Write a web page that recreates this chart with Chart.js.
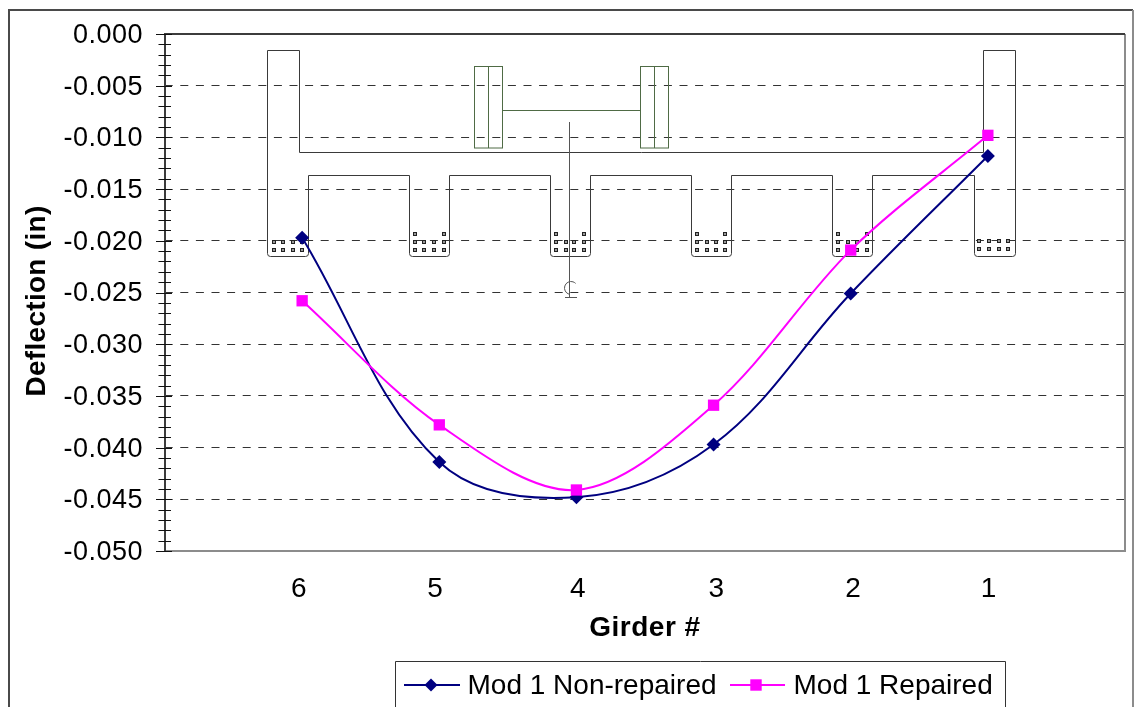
<!DOCTYPE html>
<html>
<head>
<meta charset="utf-8">
<style>html,body{margin:0;padding:0;background:#fff}canvas{display:block}</style>
<script src="https://cdn.jsdelivr.net/npm/chart.js@4/dist/chart.umd.min.js"></script>
</head>
<body>
<div style="width:1135px;height:707px;position:relative"><canvas id="c"></canvas></div>
<script>
const girders = [6, 5, 4, 3, 2, 1];
const nonRepaired = [-0.0197, -0.0414, -0.0448, -0.0397, -0.0251, -0.0118];
const repaired = [-0.0258, -0.0378, -0.0441, -0.0359, -0.0209, -0.0098];
const seriesNames = ['Mod 1 Non-repaired', 'Mod 1 Repaired'];
const xTitle = 'Girder #';
const yTitle = 'Deflection (in)';
const NAVY = '#000080', MAGENTA = '#FF00FF', FONT = '"Liberation Sans", Arial, sans-serif';
const xLabelNudge = [0.022, 0.029, -0.011, -0.022, -0.018, -0.007];

function toPoints(ys){ return girders.map((g,i)=>({x:g,y:ys[i]})); }
function noOverhang(s){ s.paddingLeft=0;s.paddingRight=0;s.paddingTop=0;s.paddingBottom=0; }

/* bridge cross-section drawn behind the series (pixels of the 1135x707 page) */
function drawSection(ctx){
  ctx.save();
  ctx.lineWidth = 1; ctx.strokeStyle = '#3a3a3a'; ctx.setLineDash([]);
  const T=50.5,S=152.5,D=175.5,B=256.5,r=3;
  const stems=[[267.5,308.5],[409.5,449.5],[550.5,590.5],[691.5,731.5],[832.5,872.5],[974.5,1015.5]];
  ctx.beginPath();
  ctx.moveTo(267.5,T);ctx.lineTo(299.5,T);ctx.lineTo(299.5,S);ctx.lineTo(983.5,S);ctx.lineTo(983.5,T);ctx.lineTo(1015.5,T);
  for(let i=5;i>=0;i--){
    const [a,b]=stems[i];
    ctx.lineTo(b,i==5?B-r:D);
    if(i<5){ctx.lineTo(b,B-r);}
    ctx.quadraticCurveTo(b,B,b-r,B);
    ctx.lineTo(a+r,B);
    ctx.quadraticCurveTo(a,B,a,B-r);
    if(i>0){ctx.lineTo(a,D);ctx.lineTo(stems[i-1][1],D);}
  }
  ctx.closePath();ctx.stroke();
  ctx.strokeStyle='#4f6b45';
  [[474.5,488.5,502.5],[640.5,654.5,668.5]].forEach(([a,m,b])=>{
    ctx.strokeRect(a,66.5,b-a,81.5);
    ctx.beginPath();ctx.moveTo(m,66.5);ctx.lineTo(m,148);ctx.stroke();
  });
  ctx.beginPath();ctx.moveTo(502.5,110.5);ctx.lineTo(640.5,110.5);ctx.stroke();
  ctx.strokeStyle='#555';
  ctx.beginPath();ctx.moveTo(569.5,122);ctx.lineTo(569.5,298);ctx.stroke();
  ctx.beginPath();ctx.arc(571,288,6.5,Math.PI*0.6,Math.PI*1.75,false);ctx.stroke();
  ctx.beginPath();ctx.moveTo(565,297.5);ctx.lineTo(577,297.5);ctx.stroke();
  const rebar=(x,y)=>{x=Math.round(x);y=Math.round(y);ctx.fillStyle='#222';ctx.fillRect(x-2,y-2,4,4);ctx.fillStyle='#999';ctx.fillRect(x-1,y-1,2,2);};
  [273.5,283.3,292.7,302.2].forEach(x=>{rebar(x,241.7);rebar(x,249.7);});
  [979.4,989,998.5,1008].forEach(x=>{rebar(x,241);rebar(x,249);});
  [[415,424.4,433.8,443.6],[555.6,565.5,574.3,584.4],[696.5,706.5,715.6,725.3],[838,847.5,857,866.6]].forEach(c=>{
    c.forEach(x=>{rebar(x,241.7);rebar(x,249.7);});
    rebar(c[0],234.3);rebar(c[3],234.3);
  });
  ctx.restore();
}

const furniture = {
  id:'furniture',
  beforeUpdate(chart){ chart.ctx.letterSpacing='0.5px'; },
  beforeDraw(chart){ chart.ctx.letterSpacing='0.5px'; },
  beforeDatasetsDraw(chart){
    const ctx=chart.ctx, a=chart.chartArea, y=chart.scales.y;
    drawSection(ctx);
    ctx.save();
    ctx.setLineDash([]);
    ctx.lineWidth=2;
    ctx.strokeStyle='#8c8c8c';
    ctx.beginPath();ctx.moveTo(a.right,a.top);ctx.lineTo(a.right,a.bottom);ctx.lineTo(a.left,a.bottom);ctx.stroke();
    ctx.strokeStyle='#3c3c3c';
    ctx.beginPath();ctx.moveTo(a.left,a.bottom);ctx.lineTo(a.left,a.top);ctx.lineTo(a.right,a.top);ctx.stroke();
    ctx.lineWidth=1;ctx.strokeStyle='#111';
    for(let i=0;i<=50;i++){
      const p=Math.round(y.getPixelForValue(-i/1000))+0.5, major=i%5===0;
      ctx.beginPath();ctx.moveTo(major?156:158.5,p);ctx.lineTo(major?172:171,p);ctx.stroke();
    }
    ctx.lineWidth=2;
    ctx.strokeStyle='#4a4a4a';
    ctx.beginPath();ctx.moveTo(9,707);ctx.lineTo(9,10);ctx.lineTo(1133,10);ctx.stroke();
    ctx.strokeStyle='#8c8c8c';
    ctx.beginPath();ctx.moveTo(1133,10);ctx.lineTo(1133,707);ctx.stroke();
    ctx.save();
    ctx.translate(45,301);ctx.rotate(-Math.PI/2);
    ctx.fillStyle='#000';ctx.font='bold 28px '+FONT;ctx.textAlign='center';ctx.textBaseline='alphabetic';
    ctx.letterSpacing='0.3px';
    ctx.fillText(yTitle,0,0);
    ctx.restore();
    ctx.restore();
  },
  afterDraw(chart){
    const ctx=chart.ctx;
    ctx.save();
    ctx.setLineDash([]);
    ctx.letterSpacing='0px';
    ctx.fillStyle='#fff';ctx.strokeStyle='#333';ctx.lineWidth=1;
    ctx.beginPath();ctx.rect(395.5,661.5,610,60);ctx.fill();ctx.stroke();
    const ly=685;
    const items=[[404,460,431,467.5,NAVY,'d'],[730,785,756,793.5,MAGENTA,'s']];
    items.forEach((it,i)=>{
      ctx.strokeStyle=it[4];ctx.fillStyle=it[4];ctx.lineWidth=2;
      ctx.beginPath();ctx.moveTo(it[0],ly);ctx.lineTo(it[1],ly);ctx.stroke();
      if(it[5]==='d'){ctx.beginPath();ctx.moveTo(it[2]-6.5,ly);ctx.lineTo(it[2],ly-6.5);ctx.lineTo(it[2]+6.5,ly);ctx.lineTo(it[2],ly+6.5);ctx.closePath();ctx.fill();}
      else ctx.fillRect(it[2]-5.7,ly-5.7,11.4,11.4);
      ctx.fillStyle='#000';ctx.font='28px '+FONT;ctx.textAlign='left';ctx.textBaseline='middle';
      ctx.fillText(seriesNames[i],it[3],ly+1);
    });
    ctx.restore();
  }
};

new Chart(document.getElementById('c'),{
  type:'scatter',
  data:{datasets:[
    {label:seriesNames[0],data:toPoints(nonRepaired),showLine:true,borderColor:NAVY,backgroundColor:NAVY,borderWidth:2,tension:0.36,pointStyle:'rectRot',pointRadius:7,pointHoverRadius:7,pointBorderWidth:0,order:2},
    {label:seriesNames[1],data:toPoints(repaired),showLine:true,borderColor:MAGENTA,backgroundColor:MAGENTA,borderWidth:2,tension:0.33,pointStyle:'rect',pointRadius:8,pointHoverRadius:8,pointBorderWidth:0,order:1}
  ]},
  options:{
    responsive:true,maintainAspectRatio:false,animation:false,
    layout:{padding:{left:0,top:34,right:10,bottom:0},autoPadding:false},
    plugins:{legend:{display:false},title:{display:false},tooltip:{enabled:false}},
    scales:{
      x:{type:'linear',reverse:true,min:0,max:7,
        afterBuildTicks(s){s.ticks=girders.map((g,i)=>({value:g+xLabelNudge[i]}));},
        afterFit(s){s.height=156;noOverhang(s);},
        grid:{display:false,drawTicks:false},border:{display:false},
        ticks:{autoSkip:false,maxRotation:0,padding:21,color:'#000',font:{family:FONT,size:28},
          callback:v=>String(Math.round(v))},
        title:{display:true,text:xTitle,color:'#000',font:{family:FONT,size:28,weight:'bold'},padding:{top:4,bottom:62}}},
      y:{type:'linear',min:-0.05,max:0,
        afterFit(s){s.width=165;noOverhang(s);},
        grid:{drawTicks:false,color:c=>(c.tick.value===0||c.tick.value===-0.05)?'rgba(0,0,0,0)':'#333',lineWidth:1},
        border:{display:false,dash:[8,7.6],dashOffset:0.3},
        ticks:{stepSize:0.005,autoSkip:false,padding:22,labelOffset:1.5,color:'#000',font:{family:FONT,size:27},
          callback:v=>{const n=Math.round(v*1000)/1000;return n===0?'0.000':n.toFixed(3);}}}
    }
  },
  plugins:[furniture]
});
</script>
</body>
</html>
